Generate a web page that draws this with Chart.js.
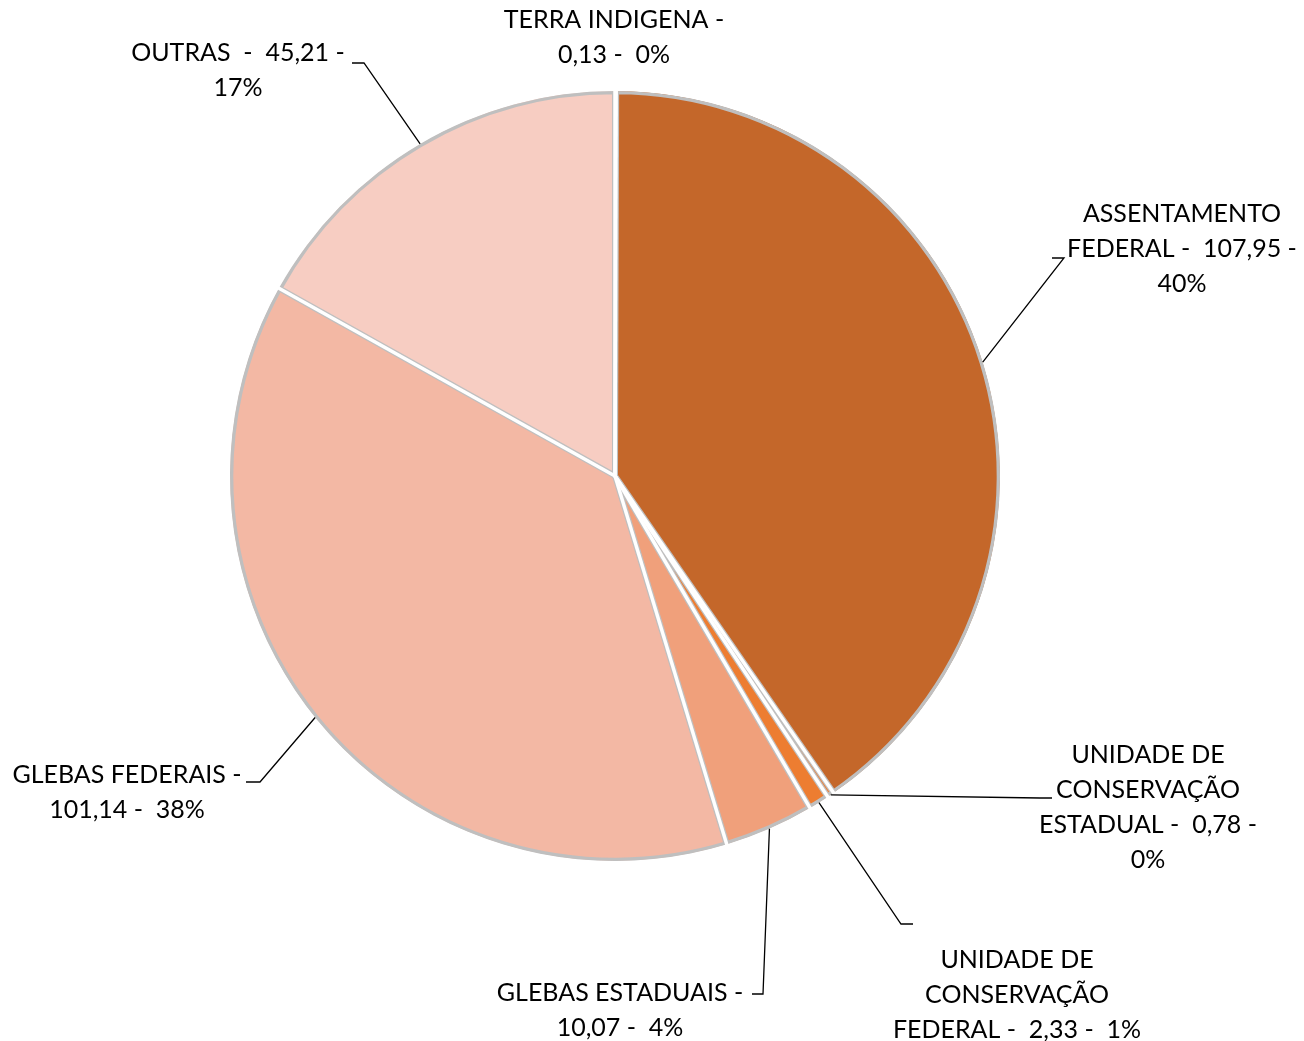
<!DOCTYPE html>
<html>
<head>
<meta charset="utf-8">
<script src="https://cdn.jsdelivr.net/npm/chart.js@4.4.1/dist/chart.umd.min.js"></script>
<style>
  html, body { margin: 0; padding: 0; background: #fff; }
  #wrap { width: 1304px; height: 1041px; position: relative; }
</style>
</head>
<body>
<div id="wrap"><canvas id="pieChart"></canvas></div>
<script>
// data
const categories = [
  "TERRA INDIGENA",
  "ASSENTAMENTO FEDERAL",
  "UNIDADE DE CONSERVAÇÃO ESTADUAL",
  "UNIDADE DE CONSERVAÇÃO FEDERAL",
  "GLEBAS ESTADUAIS",
  "GLEBAS FEDERAIS",
  "OUTRAS "
];
const values = [0.13, 107.95, 0.78, 2.33, 10.07, 101.14, 45.21];
const colors = ["#B5561C", "#C4672A", "#EC7F37", "#ED7D31", "#F0A07B", "#F3B8A4", "#F7CDC2"];

// label layout: block centre x, first line centre y, wrap width, leader elbow + end
const labelLayout = [
  { cx: 614, y: 20,  wrap: 235, line: null },
  { cx: 1182, y: 214, wrap: 240, line: [[1064, 258], [1052, 258]] },
  { cx: 1148, y: 755, wrap: 240, line: [[1040, 798], [1052, 798]] },
  { cx: 1017, y: 960, wrap: 265, line: [[901, 924], [913, 924]] },
  { cx: 620, y: 993, wrap: 260, line: [[763, 994], [752, 994]] },
  { cx: 127, y: 775, wrap: 245, line: [[260, 782], [246, 782]] },
  { cx: 238, y: 53,  wrap: 235, line: [[364, 63], [352, 63]] }
];
const LINE_H = 35;
const FONT = "25px Lato, 'Open Sans', sans-serif";

const total = values.reduce((a, b) => a + b, 0);
const fmt = v => v.toFixed(2).replace(".", ",");

function labelText(i) {
  const pct = Math.round(values[i] / total * 100);
  return categories[i] + " -  " + fmt(values[i]) + " -  " + pct + "%";
}

function wrapText(ctx, text, maxW) {
  const words = text.split(" ");
  const lines = [];
  let cur = "";
  words.forEach(w => {
    const test = cur === "" ? w : cur + " " + w;
    if (w !== "" && cur.trim() !== "" && ctx.measureText(test.trim()).width > maxW) {
      lines.push(cur.trim());
      cur = w;
    } else {
      cur = test;
    }
  });
  if (cur.trim() !== "") lines.push(cur.trim());
  return lines;
}

const leaderLabels = {
  id: "leaderLabels",
  afterDatasetsDraw(chart) {
    const ctx = chart.ctx;
    const arcs = chart.getDatasetMeta(0).data;
    ctx.save();
    // white gaps between slices
    ctx.strokeStyle = "#fff";
    ctx.lineWidth = 3.5;
    ctx.lineCap = "butt";
    arcs.forEach(a => {
      const p = a.getProps(["x", "y", "startAngle", "outerRadius"], true);
      ctx.beginPath();
      ctx.moveTo(p.x, p.y);
      ctx.lineTo(p.x + Math.cos(p.startAngle) * (p.outerRadius + 4), p.y + Math.sin(p.startAngle) * (p.outerRadius + 4));
      ctx.stroke();
    });
    // leader lines
    ctx.strokeStyle = "#000";
    ctx.lineWidth = 1.3;
    arcs.forEach((a, i) => {
      const L = labelLayout[i];
      if (!L.line) return;
      const p = a.getProps(["x", "y", "startAngle", "endAngle", "outerRadius"], true);
      const mid = (p.startAngle + p.endAngle) / 2;
      ctx.beginPath();
      ctx.moveTo(p.x + Math.cos(mid) * p.outerRadius, p.y + Math.sin(mid) * p.outerRadius);
      L.line.forEach(pt => ctx.lineTo(pt[0], pt[1]));
      ctx.stroke();
    });
    // label text
    ctx.font = FONT;
    ctx.fillStyle = "#000";
    ctx.textAlign = "center";
    ctx.textBaseline = "middle";
    arcs.forEach((a, i) => {
      const L = labelLayout[i];
      const lines = wrapText(ctx, labelText(i), L.wrap);
      lines.forEach((ln, k) => ctx.fillText(ln, L.cx, L.y + k * LINE_H));
    });
    ctx.restore();
  }
};

new Chart(document.getElementById("pieChart"), {
  type: "pie",
  data: {
    labels: categories,
    datasets: [{
      data: values,
      backgroundColor: colors,
      borderColor: "#BFBFBF",
      borderWidth: 3,
      borderAlign: "inner",
      radius: 385
    }]
  },
  options: {
    responsive: true,
    maintainAspectRatio: false,
    animation: false,
    layout: { padding: { left: 230, right: 304, top: 91, bottom: 180 } },
    plugins: { legend: { display: false }, tooltip: { enabled: false } }
  },
  plugins: [leaderLabels]
});
</script>
</body>
</html>
